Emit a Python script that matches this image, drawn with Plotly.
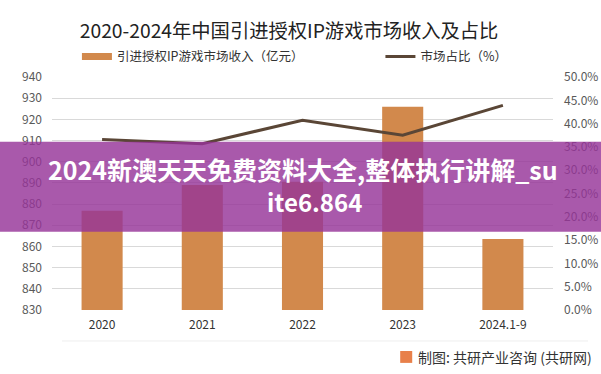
import plotly.graph_objects as go

categories = ["2020", "2021", "2022", "2023", "2024.1-9"]
revenue = [876.8, 889.0, 890.5, 926.0, 863.5]          # 亿元
share = [0.366, 0.357, 0.407, 0.375, 0.439]             # 市场占比

bar_color = "#D2894C"
line_color = "#5A4636"
FONT = "Noto Sans CJK SC"

fig = go.Figure()

fig.add_trace(go.Bar(
    x=categories, y=revenue, name="引进授权IP游戏市场收入（亿元）",
    marker=dict(color=bar_color, line=dict(width=0)),
    showlegend=False, yaxis="y",
))
# legend key for the bar series (wide flat swatch, like the original)
fig.add_trace(go.Scatter(
    x=[None], y=[None], mode="lines", name="引进授权IP游戏市场收入（亿元）",
    line=dict(color=bar_color, width=7), legend="legend", hoverinfo="skip",
))
fig.add_trace(go.Scatter(
    x=categories, y=share, name="市场占比（%）", mode="lines",
    line=dict(color=line_color, width=3), yaxis="y2", legend="legend2",
))

fig.update_layout(
    width=601, height=374,
    margin=dict(l=52, r=48, t=77, b=64, autoexpand=False),
    paper_bgcolor="white", plot_bgcolor="white",
    font=dict(family=FONT, color="#595959", size=12),
    title=dict(text="2020-2024年中国引进授权IP游戏市场收入及占比",
               x=0.481, xanchor="center", y=0.916, yanchor="middle",
               font=dict(size=19.3, color="#222222", family=FONT)),
    bargap=0.59,
    xaxis=dict(showgrid=False, ticks="", showline=False, automargin=False,
               tickfont=dict(size=12, color="#333333"), ticklabelstandoff=6),
    yaxis=dict(range=[830, 940], dtick=10, showgrid=True, gridcolor="#D9D9D9",
               gridwidth=1, zeroline=False, showline=False, ticks="", automargin=False,
               tickfont=dict(size=12, color="#595959"), ticklabelstandoff=9),
    yaxis2=dict(range=[0, 0.5], dtick=0.05, tickformat=".1%", overlaying="y",
                side="right", showgrid=False, zeroline=False, showline=False,
                ticks="", automargin=False, tickfont=dict(size=12, color="#595959"),
                ticklabelstandoff=10),
    legend=dict(orientation="h", xref="container", yref="container",
                x=0.128, xanchor="left", y=0.848, yanchor="middle",
                font=dict(size=12.5, color="#333333"), bgcolor="rgba(0,0,0,0)",
                itemwidth=30),
    legend2=dict(orientation="h", xref="container", yref="container",
                 x=0.633, xanchor="left", y=0.848, yanchor="middle",
                 font=dict(size=12.5, color="#333333"), bgcolor="rgba(0,0,0,0)",
                 itemwidth=30),
)

# faint separator line under the category labels
fig.add_shape(type="line", xref="paper", yref="paper", x0=0.02, x1=1.07,
              y0=-0.133, y1=-0.133, line=dict(color="#EEEEEE", width=1))

# source credit with small orange icon
fig.add_shape(type="rect", xref="paper", yref="paper", x0=0.695, x1=0.719,
              y0=-0.227, y1=-0.176, fillcolor="#E8804A", line=dict(width=0))
fig.add_annotation(text="制图: 共研产业咨询 (共研网)", xref="paper", yref="paper",
                   x=1.082, xanchor="right", y=-0.202, yanchor="middle",
                   showarrow=False, font=dict(size=14, color="#333333", family=FONT))

# purple overlay band with banner text
fig.add_shape(type="rect", xref="paper", yref="paper", x0=-0.11, x1=1.11,
              y0=0.336, y1=0.722, fillcolor="rgba(150,52,152,0.82)",
              line=dict(width=0), layer="above")
fig.add_annotation(text="<b>2024新澳天天免费资料大全,整体执行讲解_su</b>",
                   xref="paper", yref="paper", x=0.5, xanchor="center",
                   y=0.606, yanchor="middle", showarrow=False,
                   font=dict(size=25, color="white", family=FONT))
fig.add_annotation(text="<b>ite6.864</b>",
                   xref="paper", yref="paper", x=0.524, xanchor="center",
                   y=0.464, yanchor="middle", showarrow=False,
                   font=dict(size=24, color="white", family=FONT))

fig.write_html("out.html", config={"displayModeBar": False},
               post_script="document.body.style.margin='0';")
